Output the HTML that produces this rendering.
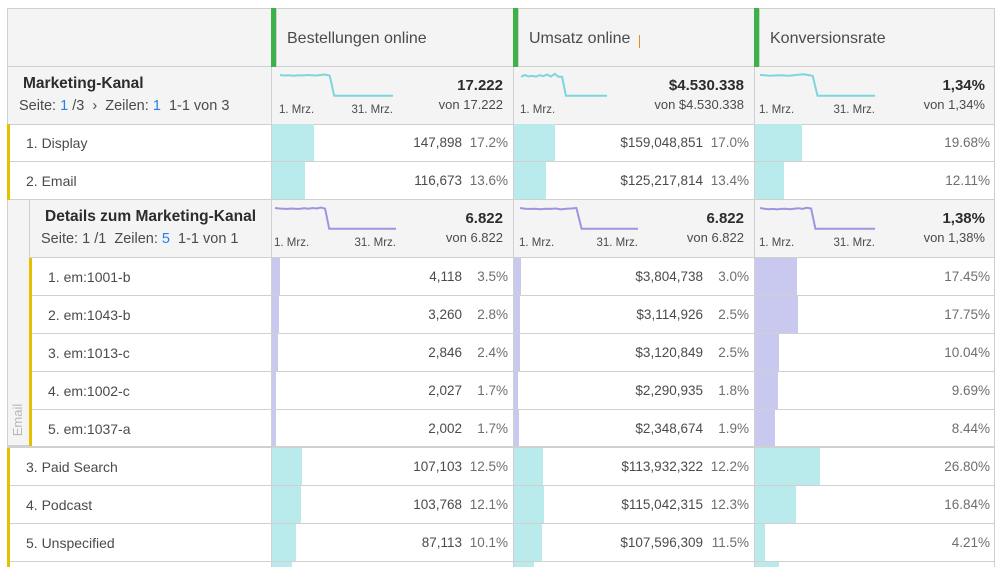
<!DOCTYPE html>
<html style="width:1003px;height:567px;overflow:hidden"><head><meta charset="utf-8">
<style>
body{margin:0;width:1003px;height:567px;overflow:hidden;background:#fff;font-family:"Liberation Sans",sans-serif;color:#4b4b4b;position:relative}
.a{position:absolute;box-sizing:border-box;white-space:nowrap}
.blue{color:#2680eb}
</style></head>
<body>
<script>
// ---- data ----
const topNames=["Display","Email"];
const topOrders=["147,898","116,673"];
const topOrdersPct=[17.2,13.6];
const topRevenue=["$159,048,851","$125,217,814"];
const topRevenuePct=[17.0,13.4];
const topConv=[19.68,12.11];
const subNames=["em:1001-b","em:1043-b","em:1013-c","em:1002-c","em:1037-a"];
const subOrders=["4,118","3,260","2,846","2,027","2,002"];
const subOrdersPct=[3.5,2.8,2.4,1.7,1.7];
const subRevenue=["$3,804,738","$3,114,926","$3,120,849","$2,290,935","$2,348,674"];
const subRevenuePct=[3.0,2.5,2.5,1.8,1.9];
const subConv=[17.45,17.75,10.04,9.69,8.44];
const botNames=["Paid Search","Podcast","Unspecified",""];
const botOrders=["107,103","103,768","87,113",""];
const botOrdersPct=[12.5,12.1,10.1,8.3];
const botRevenue=["$113,932,322","$115,042,315","$107,596,309",""];
const botRevenuePct=[12.2,12.3,11.5,8.2];
const botConv=[26.80,16.84,4.21,10.0];
const sparkOrders=[1.0,0.98,0.99,0.97,0.99,0.98,1.0,0.99,0.98,1.0,1.02,0.97,0.1,0.1,0.1,0.1,0.1,0.1,0.1,0.1,0.1,0.1,0.1,0.1,0.1,0.1];
const sparkRevenue=[0.92,1.0,0.94,0.96,0.93,0.99,0.95,1.02,0.93,1.05,0.92,0.92,0.1,0.1,0.1,0.1,0.1,0.1,0.1,0.1,0.1,0.1,0.1,0.1];
const sparkConv=[1.0,0.99,0.97,0.98,0.99,0.98,0.97,0.99,1.01,1.03,1.0,0.96,0.1,0.1,0.1,0.1,0.1,0.1,0.1,0.1,0.1,0.1,0.1,0.1,0.1];
const sparkSubOrders=[1.0,0.98,0.97,0.96,0.98,0.96,0.97,0.99,0.97,1.0,0.98,1.02,0.97,0.1,0.1,0.1,0.1,0.1,0.1,0.1,0.1,0.1,0.1,0.1,0.1,0.1,0.1,0.1,0.1,0.1];
const sparkSubRevenue=[1.0,0.97,0.96,0.97,0.95,0.97,0.96,0.98,0.94,0.97,0.98,1.0,0.1,0.1,0.1,0.1,0.1,0.1,0.1,0.1,0.1,0.1,0.1,0.1];
const sparkSubConv=[1.0,0.97,0.95,0.96,0.94,0.96,0.97,0.95,0.97,0.99,0.96,1.01,0.98,0.1,0.1,0.1,0.1,0.1,0.1,0.1,0.1,0.1,0.1,0.1,0.1,0.1,0.1,0.1];

const root=document.body;
const COL=[7,271,513,754,995];
function el(x,y,w,h,css,html,name,inter){
  const d=document.createElement('div');
  d.className='a';
  d.style.cssText=`left:${x}px;top:${y}px;width:${w}px;height:${h}px;`+(css||'');
  if(html!==undefined)d.innerHTML=html;
  
  
  root.appendChild(d);return d;
}
const BORDER='#d0d0d0';
el(7,8,988,59,`background:#f4f4f4;border:1px solid ${BORDER};`,'','header-row',false);
const heads=["Bestellungen online","Umsatz online","Konversionsrate"];
for(let i=0;i<3;i++){
  el(COL[i+1],8,6,59,'background:#3db249;','','column-drag-handle',true);
  el(COL[i+1]+5,8,1,59,`background:${BORDER};`,'','column-divider',false);
  el(COL[i+1]+16,30,220,20,'font-size:16px;',heads[i],'column-header-'+(i+1),true);
}
el(639,35,1,13,'background:#e08a2a;','','text-cursor',false);

function sparkline(x,y,w,h,vals,color,name){
  const n=vals.length;
  const pts=vals.map((v,i)=>`${(x+i*w/(n-1)).toFixed(1)},${(y+h-v*h).toFixed(1)}`).join(' ');
  const s=document.createElementNS('http://www.w3.org/2000/svg','svg');
  s.setAttribute('style','position:absolute;left:0;top:0;overflow:visible');
  s.setAttribute('width','1003');s.setAttribute('height','567');
  const p=document.createElementNS('http://www.w3.org/2000/svg','polyline');
  p.setAttribute('points',pts);p.setAttribute('fill','none');p.setAttribute('stroke',color);p.setAttribute('stroke-width','2');
  
  s.appendChild(p);
  
  
  root.appendChild(s);
}
function summary(y,x0,title,pager,big,von,sparks,color,vals,prefix){
  el(x0,y,995-x0,58,`background:#f4f4f4;border-bottom:1px solid ${BORDER};border-left:1px solid ${BORDER};border-right:1px solid ${BORDER};`,'',prefix+'-summary-row',false);
  el(x0+16,y+8,250,20,'font-size:15.5px;font-weight:bold;color:#2c2c2c;',title,prefix+'-dimension-title',false);
  el(x0+12,y+31,260,20,'font-size:14.5px;',pager,prefix+'-pagination',true);
  for(let i=0;i<3;i++){
    const c=COL[i+1];
    el(c,y,1,58,`background:${BORDER};`,'','column-divider',false);
    const sp=sparks[i];
    sparkline(c+sp[0],y+8,sp[1],23,vals[i],color,prefix+'-sparkline-'+(i+1));
    el(c+sp[0]-1,y+37,60,14,'font-size:11.5px;','1. Mrz.','sparkline-start-label',false);
    if(sp[2])el(c+sp[0]+sp[1]-60,y+37,60,14,'font-size:11.5px;text-align:right;','31. Mrz.','sparkline-end-label',false);
    el(c+100,y+10,COL[i+2]-c-110,18,'font-size:15px;font-weight:bold;color:#2c2c2c;text-align:right;',big[i],prefix+'-total-'+(i+1),false);
    el(c+80,y+30,COL[i+2]-c-90,16,'font-size:13px;text-align:right;',von[i],prefix+'-total-of-'+(i+1),false);
  }
}
function row(y,x0,num,name,ord,ordP,rev,revP,conv,bar,prefix,labelX,h){
  h=h||38;
  el(x0,y,995-x0,h,`border-bottom:1px solid ${BORDER};border-left:1px solid ${BORDER};border-right:1px solid ${BORDER};`,'',prefix+'-row',true);
  el(x0,y,3,h,'background:#e6c000;','','row-marker',false);
  if(name)el(labelX,y+11,220,18,'font-size:14px;',num+'. '+name,prefix+'-label',true);
  const pcts=[ordP,revP,conv];
  for(let i=0;i<3;i++){
    const c=COL[i+1],w=COL[i+2]-c;
    el(c,y,1,h,`background:${BORDER};`,'','column-divider',false);
    el(c+1,y,Math.max(1,pcts[i]/100*w),h-1,`background:${bar};`,'',prefix+'-bar-'+(i+1),false);
  }
  if(name){
    el(COL[1]+60,y+11,131,18,'font-size:13.5px;text-align:right;',ord,prefix+'-orders',false);
    el(COL[1]+190,y+11,47,18,'font-size:13.5px;text-align:right;color:#6e6e6e;',ordP.toFixed(1)+'%',prefix+'-orders-pct',false);
    el(COL[2]+60,y+11,130,18,'font-size:13.5px;text-align:right;',rev,prefix+'-revenue',false);
    el(COL[2]+189,y+11,47,18,'font-size:13.5px;text-align:right;color:#6e6e6e;',revP.toFixed(1)+'%',prefix+'-revenue-pct',false);
    el(COL[3]+100,y+11,136,18,'font-size:13.5px;text-align:right;color:#6e6e6e;',conv.toFixed(2)+'%',prefix+'-conversion',false);
  }
}
const CY='#b9eaec',PU='#c9c8ef';
summary(67,7,'Marketing-Kanal','Seite: <span class="blue">1</span> /3 &nbsp;›&nbsp; Zeilen: <span class="blue">1</span> &nbsp;1-1 von 3',
  ['17.222','$4.530.338','1,34%'],['von 17.222','von $4.530.338','von 1,34%'],
  [[9,113,1],[8,86,0],[6,115,1]],'#7fd6da',[sparkOrders,sparkRevenue,sparkConv],'marketing-channel');
for(let i=0;i<topNames.length;i++)
  row(124+i*38,7,i+1,topNames[i],topOrders[i],topOrdersPct[i],topRevenue[i],topRevenuePct[i],topConv[i],CY,'channel',26);
el(7,200,23,247,`background:#f4f4f4;border-left:1px solid ${BORDER};border-right:1px solid ${BORDER};border-bottom:2px solid ${BORDER};`,'','nested-gutter',false);
el(-12,412,60,16,'font-size:13px;color:#b8b8b8;transform:rotate(-90deg);text-align:center;','Email','nested-parent-label',false);
summary(200,29,'Details zum Marketing-Kanal','Seite: 1 /1 &nbsp;Zeilen: <span class="blue">5</span> &nbsp;1-1 von 1',
  ['6.822','6.822','1,38%'],['von 6.822','von 6.822','von 1,38%'],
  [[4,121,1],[7,118,1],[6,115,1]],'#9b96e0',[sparkSubOrders,sparkSubRevenue,sparkSubConv],'details');
for(let i=0;i<subNames.length;i++)
  row(258+i*38,29,i+1,subNames[i],subOrders[i],subOrdersPct[i],subRevenue[i],subRevenuePct[i],subConv[i],PU,'sub',48);
el(7,446,988,2,`background:${BORDER};`,'','nested-bottom-border',false);
for(let i=0;i<botNames.length;i++){
  const y=448+i*38;
  row(y,7,i+3,botNames[i],botOrders[i],botOrdersPct[i],botRevenue[i],botRevenuePct[i],botConv[i],CY,'channel',26,Math.min(38,567-y+1));
}
</script>
</body></html>
